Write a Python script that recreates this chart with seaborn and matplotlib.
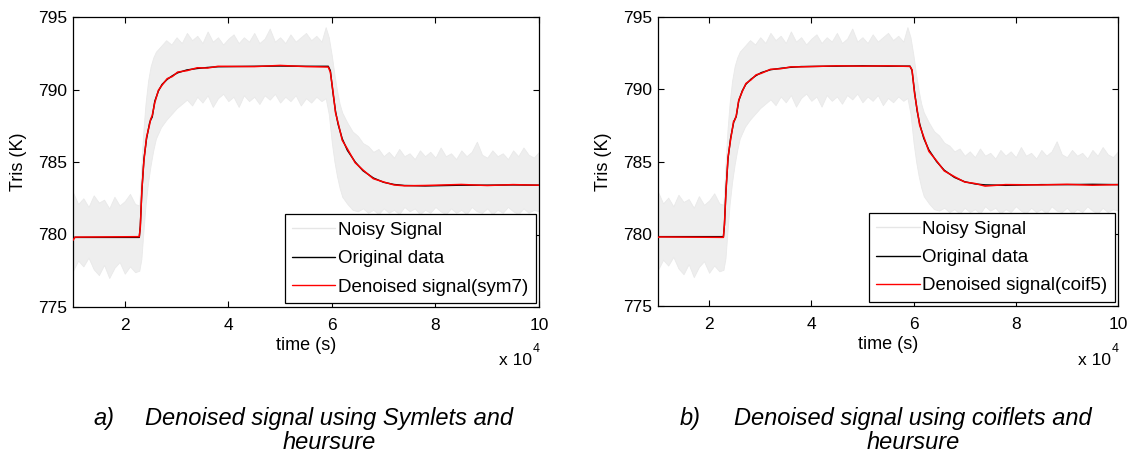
import numpy as np
import pandas as pd
import matplotlib
matplotlib.use("Agg")
import matplotlib.pyplot as plt
from matplotlib.lines import Line2D
import seaborn as sns

# time axis in units of 1e4 s
orig_time = [1.00, 1.04, 2.28, 2.30, 2.33, 2.37, 2.42, 2.48, 2.50, 2.53, 2.58, 2.65, 2.72,
             2.82, 2.92, 3.02, 3.20, 3.40, 3.60, 3.80, 4.50, 5.00, 5.50, 5.93, 5.97,
             6.02, 6.07, 6.12, 6.20, 6.30, 6.45, 6.60, 6.80, 7.00, 7.20, 7.40, 7.80,
             8.50, 9.00, 9.50, 10.00]
orig_temp = [779.8, 779.8, 779.8, 780.6, 783.0, 785.2, 786.6, 787.7, 787.9, 788.1, 789.2, 789.9, 790.35,
             790.7, 790.95, 791.15, 791.35, 791.45, 791.52, 791.57, 791.6, 791.62, 791.6, 791.6, 791.3,
             789.8, 788.5, 787.6, 786.6, 785.8, 785.0, 784.4, 783.9, 783.6, 783.45, 783.38, 783.35,
             783.4, 783.4, 783.42, 783.4]

sym7_temp = [779.6, 779.82, 779.85, 780.5, 783.1, 785.1, 786.7, 787.6, 787.95, 788.2, 789.1, 789.95, 790.3,
             790.75, 790.9, 791.2, 791.3, 791.5, 791.48, 791.6, 791.58, 791.66, 791.58, 791.55, 791.2,
             789.9, 788.4, 787.7, 786.5, 785.9, 784.95, 784.45, 783.85, 783.62, 783.42, 783.36, 783.38,
             783.45, 783.38, 783.44, 783.4]

coif5_temp = [779.75, 779.78, 779.75, 780.7, 782.9, 785.3, 786.5, 787.8, 787.85, 788.15, 789.25, 789.85, 790.4,
              790.65, 791.0, 791.1, 791.38, 791.42, 791.55, 791.55, 791.62, 791.6, 791.62, 791.58, 791.35,
              789.7, 788.6, 787.5, 786.7, 785.7, 785.05, 784.35, 783.95, 783.58, 783.48, 783.3, 783.4,
              783.38, 783.42, 783.36, 783.4]

# envelope of the noisy measurement band
noise_time = [1.0, 1.1, 1.2, 1.3, 1.4, 1.5, 1.6, 1.7, 1.8, 1.9, 2.0, 2.1, 2.2,
              2.28, 2.32, 2.36, 2.40, 2.45, 2.50, 2.55, 2.60,
              2.7, 2.8, 2.9, 3.0, 3.1, 3.2, 3.3, 3.4, 3.5, 3.6, 3.7, 3.8, 3.9, 4.0, 4.1, 4.2,
              4.3, 4.4, 4.5, 4.6, 4.7, 4.8, 4.9, 5.0, 5.1, 5.2, 5.3, 5.4, 5.5, 5.6, 5.7, 5.8,
              5.88, 5.94,
              6.0, 6.05, 6.1, 6.15, 6.2,
              6.3, 6.4, 6.5, 6.6, 6.7, 6.8, 6.9, 7.0, 7.1, 7.2, 7.3, 7.4, 7.5, 7.6, 7.7, 7.8,
              7.9, 8.0, 8.1, 8.2, 8.3, 8.4, 8.5, 8.6, 8.7, 8.8, 8.9, 9.0, 9.1, 9.2, 9.3, 9.4,
              9.5, 9.6, 9.7, 9.8, 9.9, 10.0]
noise_upper = [782.9, 782.1, 782.5, 781.9, 782.7, 782.2, 782.4, 781.8, 782.6, 782.0, 782.3, 782.8, 782.1,
               782.0, 784.8, 787.2, 789.0, 790.6, 791.6, 792.2, 792.6,
               793.0, 793.4, 793.1, 793.6, 793.2, 793.9, 793.4, 793.7, 793.2, 794.0, 793.3, 793.6, 793.1, 793.5,
               793.8, 793.2, 793.6, 793.3, 793.9, 793.2, 793.5, 794.2, 793.3, 793.6, 793.2, 793.8, 793.3, 793.6,
               793.9, 793.4, 793.7, 793.3,
               794.3, 793.6,
               792.3, 791.0, 789.9, 789.0, 788.4,
               787.7, 787.1, 786.8, 786.3, 786.1, 785.7, 785.9, 785.4, 785.7, 785.3, 785.9, 785.4, 785.6, 785.2,
               785.8, 785.4, 785.7, 785.3, 786.0, 785.4, 785.6, 785.2, 785.8, 785.4, 785.7, 786.4, 785.5, 785.3,
               785.8, 785.4, 785.6, 785.2, 785.8, 785.4, 786.0, 785.5, 785.3, 785.7]
noise_lower = [777.5, 778.2, 777.8, 778.4, 777.6, 777.2, 777.9, 777.0, 777.7, 778.1, 777.3, 777.8, 777.4,
               777.5, 778.3, 780.2, 782.0, 783.6, 784.8, 785.8, 786.6,
               787.4, 787.9, 788.3, 788.7, 789.0, 789.3, 788.9, 789.5, 789.1, 789.6, 788.8, 789.4, 789.7, 789.2,
               789.5, 788.8, 789.6, 789.2, 789.5, 789.0, 789.6, 789.3, 789.7, 789.1, 789.5, 789.2, 789.6, 788.9,
               789.4, 789.1, 789.5, 789.2,
               789.4, 788.3,
               786.3, 785.0, 784.0, 783.2, 782.6,
               782.1, 781.7, 781.6, 781.8, 781.5, 781.7, 781.4, 781.8, 781.5, 781.7, 781.4, 781.9, 781.6, 781.8,
               781.4, 781.7, 781.5, 781.9, 781.6, 781.4, 781.8, 781.5, 781.7, 781.4, 781.9, 781.6, 781.5, 781.8,
               781.4, 781.7, 781.5, 781.9, 781.6, 781.4, 781.8, 781.5, 781.7, 781.6]

panels = [
    ("Denoised signal(sym7)", sym7_temp, "a)", "Denoised signal using Symlets and", "heursure"),
    ("Denoised signal(coif5)", coif5_temp, "b)", "Denoised signal using coiflets and", "heursure"),
]

sns.set_style("ticks")
plt.rcParams["font.family"] = ["Liberation Sans", "DejaVu Sans"]
plt.rcParams["text.color"] = "black"
plt.rcParams["axes.labelcolor"] = "black"

W, H = 1129, 455
fig = plt.figure(figsize=(W / 100, H / 100), dpi=100)

# pixel boxes of the two axes: left, right, top, bottom
boxes = [(73, 539, 17, 307), (658, 1118, 17, 306)]
caption_x = [(93, 329), (680, 913)]

df_orig = pd.DataFrame({"t": orig_time, "T": orig_temp})

for (leg_label, den, tag, cap1, cap2), (l, r, t, b), (tx, cx) in zip(panels, boxes, caption_x):
    ax = fig.add_axes([l / W, 1 - b / H, (r - l) / W, (b - t) / H])
    ax.fill_between(noise_time, noise_lower, noise_upper, color="#eeeeee", lw=0.6,
                    edgecolor="#e9e9e9", zorder=1)
    sns.lineplot(data=df_orig, x="t", y="T", ax=ax, color="black", lw=1.0, zorder=2)
    sns.lineplot(x=orig_time, y=den, ax=ax, color="#ff0000", lw=1.1, zorder=3)

    ax.set_xlim(1, 10)
    ax.set_ylim(775, 795)
    ax.set_xticks([2, 4, 6, 8, 10])
    ax.set_yticks([775, 780, 785, 790, 795])
    ax.tick_params(direction="in", length=4, width=0.8, top=True, right=True,
                   labelsize=12.5, colors="black")
    ax.tick_params(axis="x", pad=8)
    ax.tick_params(axis="y", pad=4)
    for s in ax.spines.values():
        s.set_visible(True)
        s.set_color("black")
        s.set_linewidth(0.9)
    ax.set_xlabel("time (s)", fontsize=13, labelpad=3)
    ax.set_ylabel("Tris (K)", fontsize=13, labelpad=8)

    handles = [Line2D([], [], color="#e6e6e6", lw=1),
               Line2D([], [], color="black", lw=1),
               Line2D([], [], color="#ff0000", lw=1)]
    leg = ax.legend(handles, ["Noisy Signal", "Original data", leg_label],
                    loc="lower right", bbox_to_anchor=(1 - 3 / (r - l), 4 / (b - t)),
                    borderaxespad=0, fontsize=13.5, handlelength=2.3, handletextpad=0.15,
                    borderpad=0.4, labelspacing=0.6, fancybox=False, framealpha=1,
                    edgecolor="black")
    leg.get_frame().set_linewidth(0.9)

    # exponent label below the x axis
    fig.text((r - 7) / W, 1 - 365 / H, "x 10", ha="right", va="baseline", fontsize=12.5)
    fig.text((r - 6) / W, 1 - 352 / H, "4", ha="left", va="baseline", fontsize=9)

    # caption
    fig.text(tx / W, 1 - 425 / H, tag, ha="left", va="baseline", fontsize=17, style="italic")
    fig.text(cx / W, 1 - 425 / H, cap1, ha="center", va="baseline", fontsize=17, style="italic")
    fig.text(cx / W, 1 - 449 / H, cap2, ha="center", va="baseline", fontsize=17, style="italic")

fig.savefig("out.png", dpi=100)
